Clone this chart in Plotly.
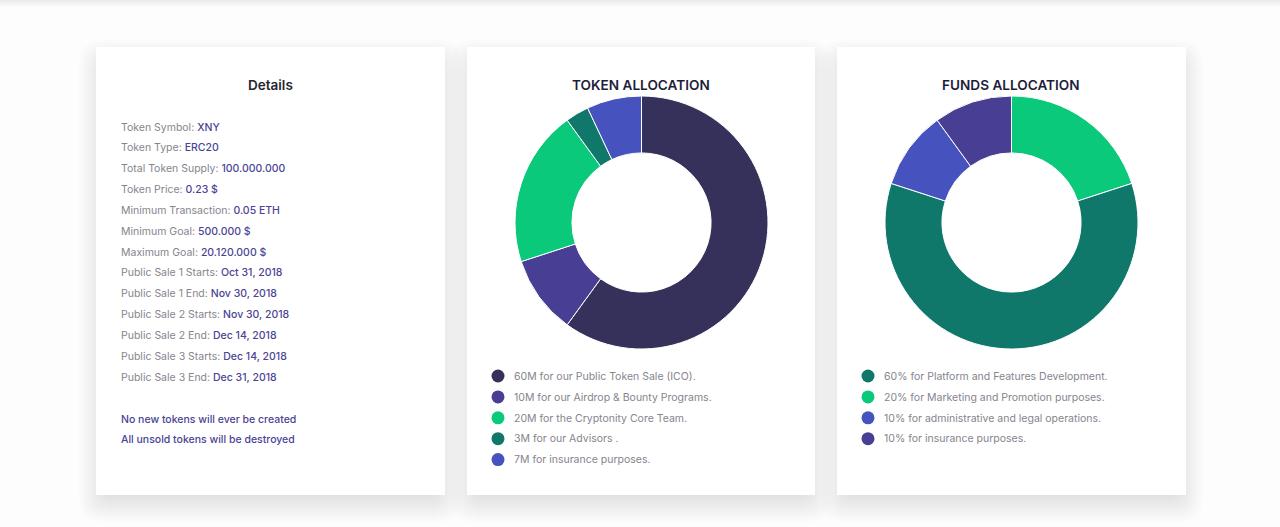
import plotly.graph_objects as go

FONT = "Inter"

# data
token_labels = ["60M for our Public Token Sale (ICO).", "10M for our Airdrop & Bounty Programs.",
                "20M for the Cryptonity Core Team.", "3M for our Advisors .", "7M for insurance purposes."]
token_values = [60, 10, 20, 3, 7]
token_colors = ["#36315a", "#483f94", "#0bc97a", "#10776b", "#4652be"]

funds_labels = ["60% for Platform and Features Development.", "20% for Marketing and Promotion purposes.",
                "10% for administrative and legal operations.", "10% for insurance purposes."]
funds_values = [60, 20, 10, 10]
funds_colors = ["#10776b", "#0bc97a", "#4652be", "#483f94"]

# slices of the funds donut go clockwise from the top in this order
funds_pie_order = [1, 0, 2, 3]

detail_names = ["Token Symbol:", "Token Type:", "Total Token Supply:", "Token Price:", "Minimum Transaction:",
                "Minimum Goal:", "Maximum Goal:", "Public Sale 1 Starts:", "Public Sale 1 End:",
                "Public Sale 2 Starts:", "Public Sale 2 End:", "Public Sale 3 Starts:", "Public Sale 3 End:"]
detail_values = ["XNY", "ERC20", "100.000.000", "0.23 $", "0.05 ETH", "500.000 $", "20.120.000 $",
                 "Oct 31, 2018", "Nov 30, 2018", "Nov 30, 2018", "Dec 14, 2018", "Dec 14, 2018", "Dec 31, 2018"]
detail_notes = ["No new tokens will ever be created", "All unsold tokens will be destroyed"]

W, H = 1280, 527
GREY = "#85858d"
PURPLE = "#4a4494"
CARDS = [(96, 445), (467, 815), (837, 1186)]


def pie_domain(cx, cy, r):
    return dict(x=[(cx - r) / W, (cx + r) / W], y=[1 - (cy + r) / H, 1 - (cy - r) / H])


def note(x, y, text, color=GREY, size=10.5, anchor="left", weight=400):
    fig.add_annotation(x=x, y=y, xref="x", yref="y", text=text, showarrow=False, xanchor=anchor, yanchor="middle",
                       borderpad=0, borderwidth=0, font=dict(family=FONT, size=size, color=color, weight=weight))


def card_shadow(x0, y0, x1, y1, spread, dy):
    # stacked rounded rects, one grey level each, fakes the css blur
    for s in range(spread, -spread, -1):
        r = (s + spread) * 0.7
        a, b, c, d = x0 - s, x1 + s, y0 - s + dy, y1 + s + dy
        path = (f"M{a + r},{c} L{b - r},{c} Q{b},{c} {b},{c + r} L{b},{d - r} Q{b},{d} {b - r},{d} "
                f"L{a + r},{d} Q{a},{d} {a},{d - r} L{a},{c + r} Q{a},{c} {a + r},{c} Z")
        fig.add_shape(type="path", path=path, xref="x", yref="y", layer="below", line_width=0, fillcolor="black",
                      opacity=0.004)


fig = go.Figure()

fig.add_trace(go.Pie(values=token_values, labels=token_labels, sort=False, direction="clockwise", rotation=0,
                     hole=0.55, textinfo="none", showlegend=False, domain=pie_domain(641.5, 222.5, 126.5),
                     marker=dict(colors=token_colors, line=dict(color="white", width=1))))
fig.add_trace(go.Pie(values=[funds_values[i] for i in funds_pie_order], labels=[funds_labels[i] for i in funds_pie_order],
                     sort=False, direction="clockwise", rotation=0, hole=0.55, textinfo="none", showlegend=False,
                     domain=pie_domain(1011.5, 222.5, 126.5),
                     marker=dict(colors=[funds_colors[i] for i in funds_pie_order], line=dict(color="white", width=1))))

# legend dots on a hidden pixel axis
fig.add_trace(go.Scatter(x=[498] * len(token_labels), y=[376 + 20.9 * i for i in range(len(token_labels))], mode="markers",
                         marker=dict(size=13, color=token_colors), showlegend=False, hoverinfo="skip"))
fig.add_trace(go.Scatter(x=[868] * len(funds_labels), y=[376 + 20.9 * i for i in range(len(funds_labels))], mode="markers",
                         marker=dict(size=13, color=funds_colors), showlegend=False, hoverinfo="skip"))

# page top bar shadow
for i in range(6):
    fig.add_shape(type="rect", xref="x", yref="y", layer="below", x0=0, x1=W, y0=-2, y1=1 + i * 1.2, line_width=0,
                  fillcolor="black", opacity=0.012)

# shadows first so no card sits under its neighbour's shadow
for x0, x1 in CARDS:
    card_shadow(x0, 47, x1, 495, 18, 10)
for x0, x1 in CARDS:
    fig.add_shape(type="rect", xref="x", yref="y", layer="below", x0=x0, x1=x1, y0=47, y1=495, line_width=0, fillcolor="white")

note(270.5, 85.2, "Details", color="#25252d", size=13.5, anchor="center", weight=600)
note(641, 85.2, "TOKEN ALLOCATION", color="#1e1e3c", size=13.6, anchor="center", weight=600)
note(1011, 85.2, "FUNDS ALLOCATION", color="#1e1e3c", size=13.6, anchor="center", weight=600)

for i, (name, value) in enumerate(zip(detail_names, detail_values)):
    note(121, 127 + 20.85 * i, f'{name} <span style="color:{PURPLE};font-weight:500">{value}</span>')
for i, line in enumerate(detail_notes):
    note(121, 419 + 20.9 * i, line, color=PURPLE, weight=500)
for i, line in enumerate(token_labels):
    note(514, 376.2 + 20.9 * i, line)
for i, line in enumerate(funds_labels):
    note(884, 376.2 + 20.9 * i, line)

fig.update_xaxes(range=[0, W], visible=False, fixedrange=True)
fig.update_yaxes(range=[H, 0], visible=False, fixedrange=True)
fig.update_layout(width=W, height=H, margin=dict(l=0, r=0, t=0, b=0), paper_bgcolor="#fdfdfd", plot_bgcolor="#fdfdfd",
                  showlegend=False)

fig.write_html("out.html", config=dict(displayModeBar=False), post_script="document.body.style.margin='0';")
